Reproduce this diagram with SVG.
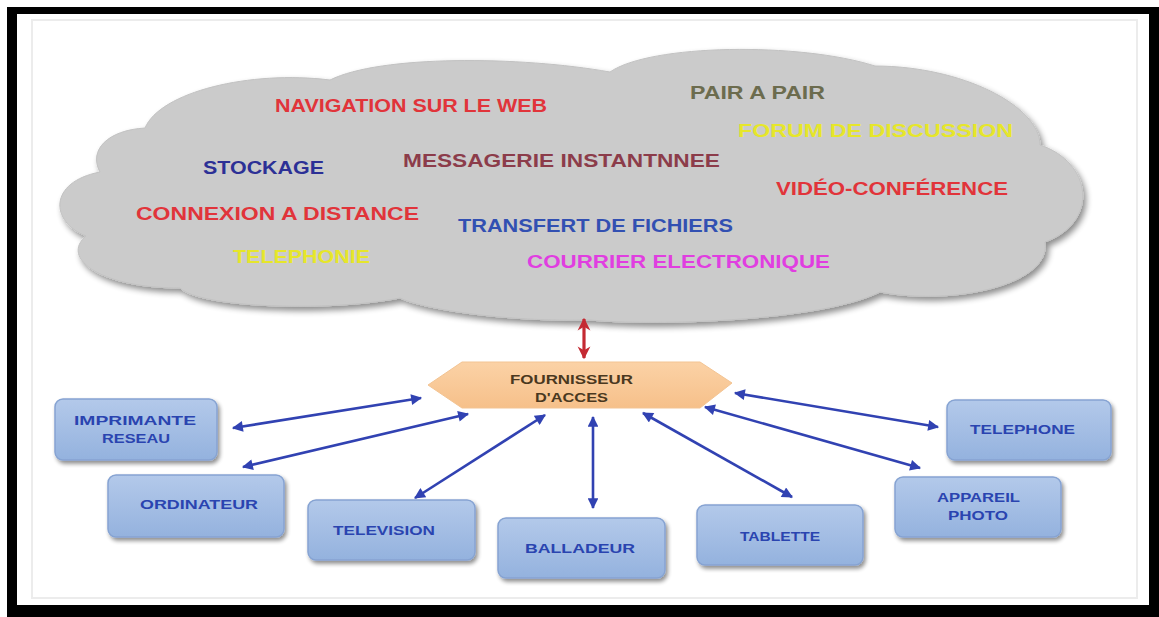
<svg xmlns="http://www.w3.org/2000/svg" width="1159" height="617" viewBox="0 0 1159 617">
  <style>
    .cloudtxt { font-family: "Liberation Sans", "DejaVu Sans", sans-serif; font-weight: bold; font-size: 18px; }
    .boxtxt { font-family: "Liberation Sans", "DejaVu Sans", sans-serif; font-weight: bold; font-size: 12.5px; fill: #2a44b0; }
    .hubtxt { font-family: "Liberation Sans", "DejaVu Sans", sans-serif; font-weight: bold; font-size: 12.5px; fill: #4a3820; }
    .box { fill: url(#boxGrad); stroke: #86a3d2; stroke-width: 1.5; filter: url(#boxShadow); }
    .link { stroke: #3142b2; stroke-width: 2.6; fill: none; marker-start: url(#blueHeadStart); marker-end: url(#blueHead); }
  </style>
  <defs>
    <linearGradient id="boxGrad" x1="0" y1="0" x2="0" y2="1">
      <stop offset="0" stop-color="#b3c9ea"/>
      <stop offset="1" stop-color="#94b2de"/>
    </linearGradient>
    <linearGradient id="hubGrad" x1="0" y1="0" x2="0" y2="1">
      <stop offset="0" stop-color="#fbd2a6"/>
      <stop offset="1" stop-color="#f6c08a"/>
    </linearGradient>
    <filter id="boxShadow" x="-10%" y="-10%" width="125%" height="135%">
      <feGaussianBlur in="SourceAlpha" stdDeviation="2"/>
      <feOffset dx="2" dy="3" result="off"/>
      <feComponentTransfer><feFuncA type="linear" slope="0.45"/></feComponentTransfer>
      <feMerge><feMergeNode/><feMergeNode in="SourceGraphic"/></feMerge>
    </filter>
    <filter id="cloudShadow" x="-5%" y="-10%" width="112%" height="125%">
      <feGaussianBlur in="SourceAlpha" stdDeviation="3"/>
      <feOffset dx="3" dy="4" result="off"/>
      <feComponentTransfer><feFuncA type="linear" slope="0.45"/></feComponentTransfer>
      <feMerge><feMergeNode/><feMergeNode in="SourceGraphic"/></feMerge>
    </filter>
    <marker id="blueHead" viewBox="0 0 10 10" refX="9" refY="5" markerWidth="5.5" markerHeight="4.2" orient="auto" markerUnits="strokeWidth">
      <path d="M0,0 L10,5 L0,10 Z" fill="#3142b2"/>
    </marker>
    <marker id="blueHeadStart" viewBox="0 0 10 10" refX="1" refY="5" markerWidth="5.5" markerHeight="4.2" orient="auto" markerUnits="strokeWidth">
      <path d="M10,0 L0,5 L10,10 Z" fill="#3142b2"/>
    </marker>
    <marker id="redHead" viewBox="0 0 10 10" refX="9" refY="5" markerWidth="4" markerHeight="5" orient="auto" markerUnits="strokeWidth">
      <path d="M0,0 L10,5 L0,10 L3,5 Z" fill="#c42a33"/>
    </marker>
    <marker id="redHeadStart" viewBox="0 0 10 10" refX="1" refY="5" markerWidth="4" markerHeight="5" orient="auto" markerUnits="strokeWidth">
      <path d="M10,0 L0,5 L10,10 L7,5 Z" fill="#c42a33"/>
    </marker>
  </defs>

  <!-- frame -->
  <rect x="0" y="0" width="1159" height="617" fill="#ffffff"/>
  <rect x="7" y="7" width="1152" height="610" fill="#000000"/>
  <rect x="17" y="14" width="1132" height="591" fill="#ffffff"/>
  <rect x="32" y="20" width="1105" height="578" fill="none" stroke="#ececec" stroke-width="2"/>

  <!-- cloud of services -->
  <g id="cloud">
    <path filter="url(#cloudShadow)" fill="#cbcbcb" stroke="#c2c2c2" stroke-width="1"
      d="M145,128 C160,92 250,70 330,80 C380,55 520,56 610,72 C650,44 800,42 875,66 C962,66 1040,106 1040,145 C1092,162 1100,222 1045,242 C1052,285 952,306 880,292 C820,322 650,326 590,320 C500,322 420,308 400,298 C330,312 200,308 180,288 C100,288 60,258 86,236 C50,222 48,182 100,172 C88,150 108,130 145,128 Z"/>
    <text class="cloudtxt" x="275" y="112" fill="#e1343a" textLength="272" lengthAdjust="spacingAndGlyphs">NAVIGATION SUR LE WEB</text>
    <text class="cloudtxt" x="690" y="99" fill="#6c6c4e" textLength="135" lengthAdjust="spacingAndGlyphs">PAIR A PAIR</text>
    <text class="cloudtxt" x="738" y="137" fill="#e6e62a" textLength="275" lengthAdjust="spacingAndGlyphs">FORUM DE DISCUSSION</text>
    <text class="cloudtxt" x="203" y="174" fill="#2c3096" textLength="121" lengthAdjust="spacingAndGlyphs">STOCKAGE</text>
    <text class="cloudtxt" x="403" y="167" fill="#8c3c4a" textLength="317" lengthAdjust="spacingAndGlyphs">MESSAGERIE INSTANTNNEE</text>
    <text class="cloudtxt" x="776" y="195" fill="#e1343a" textLength="232" lengthAdjust="spacingAndGlyphs">VIDÉO-CONFÉRENCE</text>
    <text class="cloudtxt" x="136" y="220" fill="#e1343a" textLength="283" lengthAdjust="spacingAndGlyphs">CONNEXION A DISTANCE</text>
    <text class="cloudtxt" x="458" y="232" fill="#3250b2" textLength="275" lengthAdjust="spacingAndGlyphs">TRANSFERT DE FICHIERS</text>
    <text class="cloudtxt" x="233" y="263" fill="#e6e62a" textLength="137" lengthAdjust="spacingAndGlyphs">TELEPHONIE</text>
    <text class="cloudtxt" x="527" y="268" fill="#e03ee0" textLength="303" lengthAdjust="spacingAndGlyphs">COURRIER ELECTRONIQUE</text>
  </g>

  <!-- access provider -->
  <g id="hub">
    <polygon points="428,385 462,362 700,362 732,383 700,408 462,408" fill="url(#hubGrad)" stroke="#f3c493" stroke-width="1"/>
    <text class="hubtxt" x="510" y="384" textLength="123" lengthAdjust="spacingAndGlyphs">FOURNISSEUR</text>
    <text class="hubtxt" x="535" y="402" textLength="73" lengthAdjust="spacingAndGlyphs">D'ACCES</text>
  </g>

  <!-- devices -->
  <g id="imprimante">
    <rect class="box" x="55" y="399" width="162" height="61" rx="8"/>
    <text class="boxtxt" x="74" y="425" textLength="122" lengthAdjust="spacingAndGlyphs">IMPRIMANTE</text>
    <text class="boxtxt" x="102" y="443" textLength="68" lengthAdjust="spacingAndGlyphs">RESEAU</text>
  </g>
  <g id="ordinateur">
    <rect class="box" x="108" y="475" width="176" height="62" rx="8"/>
    <text class="boxtxt" x="140" y="509" textLength="118" lengthAdjust="spacingAndGlyphs">ORDINATEUR</text>
  </g>
  <g id="television">
    <rect class="box" x="308" y="500" width="167" height="60" rx="8"/>
    <text class="boxtxt" x="333" y="535" textLength="102" lengthAdjust="spacingAndGlyphs">TELEVISION</text>
  </g>
  <g id="balladeur">
    <rect class="box" x="498" y="518" width="167" height="60" rx="8"/>
    <text class="boxtxt" x="525" y="553" textLength="110" lengthAdjust="spacingAndGlyphs">BALLADEUR</text>
  </g>
  <g id="tablette">
    <rect class="box" x="697" y="505" width="166" height="60" rx="8"/>
    <text class="boxtxt" x="740" y="541" textLength="80" lengthAdjust="spacingAndGlyphs">TABLETTE</text>
  </g>
  <g id="appareil">
    <rect class="box" x="895" y="477" width="166" height="60" rx="8"/>
    <text class="boxtxt" x="937" y="502" textLength="83" lengthAdjust="spacingAndGlyphs">APPAREIL</text>
    <text class="boxtxt" x="948" y="520" textLength="60" lengthAdjust="spacingAndGlyphs">PHOTO</text>
  </g>
  <g id="telephone">
    <rect class="box" x="947" y="400" width="164" height="60" rx="8"/>
    <text class="boxtxt" x="970" y="434" textLength="105" lengthAdjust="spacingAndGlyphs">TELEPHONE</text>
  </g>

  <!-- connectors -->
  <g id="connectors">
    <line x1="584" y1="319" x2="584" y2="358" stroke="#c42a33" stroke-width="3.2" marker-start="url(#redHeadStart)" marker-end="url(#redHead)"/>
    <line class="link" x1="233" y1="428" x2="421" y2="398"/>
    <line class="link" x1="243" y1="467" x2="468" y2="414"/>
    <line class="link" x1="415" y1="498" x2="545" y2="415"/>
    <line class="link" x1="593" y1="417" x2="593" y2="508"/>
    <line class="link" x1="643" y1="413" x2="792" y2="497"/>
    <line class="link" x1="705" y1="407" x2="920" y2="468"/>
    <line class="link" x1="735" y1="393" x2="938" y2="427"/>
  </g>
</svg>
